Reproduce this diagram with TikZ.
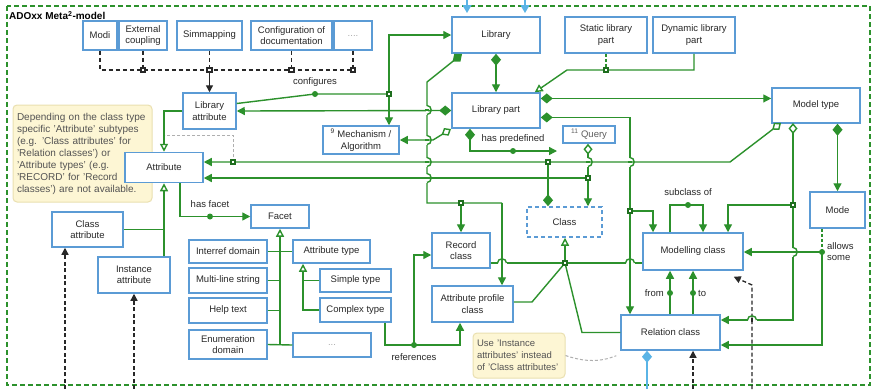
\documentclass[tikz,border=0pt]{standalone}
\usepackage{fontspec}
\setmainfont{Liberation Sans}
\usetikzlibrary{arrows.meta,calc}

\definecolor{gline}{RGB}{44,145,44}
\definecolor{gdark}{RGB}{30,110,30}
\definecolor{bborder}{RGB}{91,155,213}
\definecolor{skyblue}{RGB}{90,180,230}
\definecolor{notefill}{RGB}{253,246,212}
\definecolor{noteline}{RGB}{234,224,176}
\definecolor{dashgrey}{RGB}{175,175,175}
\definecolor{txtgrey}{RGB}{170,170,170}
\definecolor{dark}{RGB}{40,40,40}

\tikzset{
  gtri/.tip={Triangle[length=8pt,width=8pt]},
  gdia/.tip={Diamond[length=12pt,width=10pt]},
  odia/.tip={Diamond[open,length=11pt,width=9pt,fill=white]},
  otri/.tip={Triangle[open,length=8pt,width=8pt,fill=white]},
  btri/.tip={Triangle[length=7pt,width=7pt]},
  box/.style={draw=bborder, line width=1.5pt, fill=white, align=center, inner sep=1pt,
    font=\fontsize{9.5}{11.5}\selectfont, text=dark},
  bx/.style 2 args={box, minimum width=#1, minimum height=#2},
  note/.style={draw=noteline, fill=notefill, rounded corners=4pt, line width=1pt,
    align=left, inner sep=4pt, text=dark!80},
  lbl/.style={font=\fontsize{9.5}{11}\selectfont, inner sep=1pt, text=dark},
  link/.style={draw=gline, line width=1.4pt},
  gdash/.style={link, dash pattern=on 3pt off 2pt},
  bus/.style={draw=dark, line width=1.3pt, dash pattern=on 4pt off 3pt},
  bdash/.style={draw=dark, line width=1.3pt, dash pattern=on 4pt off 2.5pt},
  skyln/.style={draw=skyblue, fill=skyblue, line width=1.4pt},
  greyd/.style={draw=dashgrey, line width=1pt, dash pattern=on 3pt off 2pt},
  jsq/.pic={\fill[gdark] (-3,-3) rectangle (3,3); \fill[white] (-1.2,-1.2) rectangle (1.2,1.2);},
  bsq/.pic={\fill[dark] (-3.2,-3.2) rectangle (3.2,3.2); \fill[white] (-1.3,-1.3) rectangle (1.3,1.3);},
}

% a vertical line bending round a horizontal one
\newcommand{\jumpv}[2]{%
  \fill[white] ({#1-1.3},{#2-4.5}) rectangle ({#1+1.3},{#2+4.5});
  \draw[link] ({#1-2},#2) -- ({#1+2},#2);
  \draw[link] (#1,{#2-4.5}) .. controls ({#1+5.5},{#2-4.5}) and ({#1+5.5},{#2+4.5}) .. (#1,{#2+4.5});
}
% a horizontal line hopping over a vertical one
\newcommand{\jumph}[3]{%
  \fill[white] ({#1-4.5},{#2-1.3}) rectangle ({#1+4.5},{#2+1.3});
  \draw[#3] (#1,{#2-2}) -- (#1,{#2+2});
  \draw[link] ({#1-4.5},#2) .. controls ({#1-4.5},{#2-5.5}) and ({#1+4.5},{#2-5.5}) .. ({#1+4.5},#2);
}

\begin{document}
\begin{tikzpicture}[x=1pt,y=-1pt]
\fill[white] (0,0) rectangle (874,389);
\useasboundingbox (0,0) rectangle (874,389);

% frame and title
\draw[gline, line width=1.3pt, dash pattern=on 5pt off 3pt] (7,6) rectangle (870,385);
\node[anchor=west, inner sep=0, font=\bfseries\fontsize{10}{11}\selectfont] (title) at (9,15.5) {ADOxx Meta\textsuperscript{2}-model};

% notes (behind the classes)
\node[note, text width=131pt, minimum height=97pt, font=\fontsize{10}{12}\selectfont] (note1) at (82.5,153.5)
  {Depending on the class type\\specific 'Attribute' subtypes\\(e.g. 'Class attributes' for\\'Relation classes') or\\'Attribute types' (e.g.\\'RECORD' for 'Record\\classes') are not available.};
\node[note, text width=84pt, minimum height=45pt, font=\fontsize{9.5}{12}\selectfont] (note2) at (519,355.5)
  {Use 'Instance\\attributes' instead\\of 'Class attributes'};

% configuration items
\node[bx={34}{29}] (modi) at (100,35.5) {Modi};
\node[bx={48}{29}] (extc) at (143,35.5) {External\\coupling};
\node[bx={65}{29}] (simm) at (209.5,35.5) {Simmapping};
\node[bx={81}{29}] (confdoc) at (291.5,35.5) {Configuration of\\documentation};
\node[bx={38}{29}, text=txtgrey] (more1) at (353,35.5) {....};

% classes
\node[bx={53}{36}] (libattr) at (209.5,111) {Library\\attribute};
\node[bx={88}{36}] (library) at (496,35) {Library};
\node[bx={88}{35}] (libpart) at (496,110.5) {Library part};
\node[bx={82}{36}] (static) at (606,35) {Static library\\part};
\node[bx={82}{36}] (dynamic) at (694,35) {Dynamic library\\part};
\node[bx={88}{35}] (modeltype) at (816,105.5) {Model type};
\node[bx={76}{28}] (mech) at (361,140) {\textsuperscript{9} Mechanism /\\Algorithm};
\node[bx={52}{17}, text=dark!75] (query) at (589,134.5) {\textsuperscript{11} Query};
\node[bx={78}{30}] (attribute) at (164,167.5) {Attribute};
\node[bx={75}{30}, dash pattern=on 4pt off 3pt] (class) at (564.5,222) {Class};
\node[bx={55}{36}] (mode) at (837.5,210) {Mode};
\node[bx={100}{37}] (modclass) at (693,251.5) {Modelling class};
\node[bx={99}{35}] (relclass) at (670.5,332.5) {Relation class};
\node[bx={58}{35}] (record) at (461,250.5) {Record\\class};
\node[bx={81}{36}] (attrprof) at (472.5,304) {Attribute profile\\class};
\node[bx={58}{23}] (facet) at (280,216.5) {Facet};
\node[bx={71}{35}] (classattr) at (87.5,229.5) {Class\\attribute};
\node[bx={72}{36}] (instattr) at (134,275) {Instance\\attribute};
\node[bx={78}{23}] (interref) at (228,251.5) {Interref domain};
\node[bx={77}{23}] (attrtype) at (331.5,251.5) {Attribute type};
\node[bx={78}{25}] (multiline) at (228,280.5) {Multi-line string};
\node[bx={71}{23}] (simple) at (355.5,280.5) {Simple type};
\node[bx={78}{25}] (helptext) at (228,310.5) {Help text};
\node[bx={71}{24}] (complex) at (355.5,310) {Complex type};
\node[bx={78}{29}] (enum) at (228,344.5) {Enumeration\\domain};
\node[bx={78}{24}, text=txtgrey] (more2) at (332,345) {...};

% junction points
\coordinate (busy) at (0,70);
\coordinate (cfgsq) at (389,94);
\coordinate (cfgdot) at (315,94);
\coordinate (aggA) at (451,129);
\coordinate (aggB) at (433,140);
\coordinate (libA) at (462,54);
\coordinate (libB) at (427,82);
\coordinate (recsq) at (461,203);
\coordinate (recR) at (502,203);
\coordinate (slsq) at (606,70);
\coordinate (genbend) at (567,70);
\coordinate (vx630) at (630,0);
\coordinate (mcsq) at (630,211);
\coordinate (mcA) at (653,211);
\coordinate (mtA) at (781,123);
\coordinate (mtB) at (730,162);
\coordinate (atsq) at (233,162);
\coordinate (clsq1) at (548,162);
\coordinate (gdc) at (233,135);
\coordinate (gdd) at (165,135);
\coordinate (clsq2) at (588,178);
\coordinate (mtC) at (793,123);
\coordinate (mcsq2) at (793,205);
\coordinate (mcB) at (728,205);
\coordinate (rcA) at (793,320);
\coordinate (asdot) at (822,252);
\coordinate (asB) at (822,345);
\coordinate (hpx) at (470,151);
\coordinate (hpdot) at (513,151);
\coordinate (hpend) at (557,151);
\coordinate (hfx) at (180,216.5);
\coordinate (hfdot) at (210,216.5);
\coordinate (atx) at (303,0);
\coordinate (refA) at (385,345);
\coordinate (refdot) at (414,345);
\coordinate (refB) at (460,345);
\coordinate (refC) at (414,255);
\coordinate (gensq) at (565,263);
\coordinate (apA) at (532,302);
\coordinate (rcB) at (582,332.5);
\coordinate (scA) at (670,205);
\coordinate (scdot) at (688,205);
\coordinate (scB) at (703,205);
\coordinate (frx) at (670,293);
\coordinate (tox) at (693,293);
\coordinate (bt1) at (65,389);
\coordinate (bt3) at (693,389);
\coordinate (bt4) at (752,389);
\coordinate (bt4b) at (752,285);
\coordinate (bt5) at (647,389);
\coordinate (sky1) at (467,0);
\coordinate (sky2) at (525,0);

% configuration bus
\draw[bus] (modi.south) -- (modi.south |- busy) -- (more1.south |- busy);
\draw[bus] (extc.south) -- (extc.south |- busy);
\draw[bus] (simm.south) -- (simm.south |- busy);
\draw[bus] (confdoc.south) -- (confdoc.south |- busy);
\draw[bus] (more1.south) -- (more1.south |- busy);
\draw[draw=dark, line width=1.3pt, -{btri}] (simm.south |- busy) -- (libattr.north);
\foreach \n in {extc,simm,confdoc,more1} \pic at (\n.south |- busy) {bsq};

% library relations
\draw[link, {gtri}-{gtri}] (library.west) -- (cfgsq |- library.west) -- (cfgsq |- mech.north);
\draw[link] (cfgsq) -- (cfgdot) -- ($(libattr.north east)!0.3!(libattr.south east)$);
\node[lbl] (lblcfg) at (315,82) {configures};
\draw[link, {gdia}-{gtri}] (libpart.west) -- (libattr.east);
\draw[link, {odia}-{gtri}] (aggA) -- (aggB) -- (mech.east);
\draw[link, {gdia}-] (libA) -- (libB) -- (libB |- recsq) -- (recsq) -- (recR);
\draw[link, -{gtri}] (recR) -- (recR |- attrprof.north);
\draw[link, -{gtri}] (recsq) -- (record.north);
\draw[link, {gdia}-{gtri}] (library.south) -- (libpart.north);
\draw[gdash] (static.south) -- (slsq);
\draw[link, -{otri}] (dynamic.south) -- (dynamic.south |- slsq) -- (genbend) -- ($(libpart.north east)+(-6,0)$);
\draw[link, {gdia}-{gtri}] ($(libpart.north east)!0.17!(libpart.south east)$) coordinate (lpA) -- (lpA -| modeltype.west);
\draw[link, {gdia}-{gtri}] ($(libpart.north east)!0.69!(libpart.south east)$) coordinate (lpB) -- (lpB -| vx630) -- (vx630 |- relclass.north);
\draw[link, -{gtri}] (mcsq) -- (mcA) -- (mcA |- modclass.north);

% model type relations
\draw[link, {odia}-{gtri}] (mtA) -- (mtB) -- (atsq) -- (atsq -| attribute.east);
\draw[link, {gdia}-] (clsq1 |- class.north) -- (clsq1);
\draw[greyd] (atsq) -- (gdc) -- (gdd);
\draw[link, {odia}-] (clsq2 |- query.south) -- (clsq2);
\draw[link, -{gtri}] (clsq2) -- (clsq2 |- class.north);
\draw[link, -{gtri}] (clsq2) -- (clsq2 -| attribute.east);
\draw[link, {odia}-] (mtC) -- (mcsq2);
\draw[link, -{gtri}] (mcsq2) -- (mcB) -- (mcB |- modclass.north);
\draw[link, -{gtri}] (mcsq2) -- (rcA) -- (rcA -| relclass.east);
\draw[link, {gdia}-{gtri}] (mode.north |- modeltype.south) -- (mode.north);

% allows some
\draw[gdash] (asdot |- mode.south) -- (asdot);
\draw[link, -{gtri}] (asdot) -- (asdot -| modclass.east);
\draw[link, -{gtri}] (asdot) -- (asB) -- (asB -| relclass.east);
\node[lbl, anchor=west, align=left] (lblallow) at (826,252) {allows\\some};

% has predefined
\draw[link, {gdia}-{gtri}] (hpx |- libpart.south) -- (hpx) -- (hpdot) -- (hpend);
\node[lbl] (lblpre) at (513,139) {has predefined};

% attribute relations
\draw[link, -{gtri}] (hfx |- attribute.south) -- (hfx) -- (hfdot) -- (facet.west);
\node[lbl] (lblfacet) at (210,204) {has facet};
\draw[link, -{otri}] (libattr.west) -- (attribute.north |- libattr.west) -- (attribute.north);
\draw[link, -{otri}] (attribute.south |- instattr.north) -- (attribute.south);
\draw[link] (classattr.east) -- (attribute.south |- classattr.east);

% facets and attribute types
\draw[link, -{otri}] (facet.south |- enum.east) -- (facet.south);
\draw[link] (interref.east) -- (attrtype.west);
\draw[link] (multiline.east) -- (multiline.east -| facet.south);
\draw[link] (helptext.east) -- (helptext.east -| facet.south);
\draw[link] (enum.east) -- (more2.west);
\draw[link, -{otri}] (complex.west) -- (complex.west -| atx) -- (atx |- attrtype.south);
\draw[link] (simple.west) -- (simple.west -| atx);

% references
\draw[link] (refA |- complex.south) -- (refA) -- (refdot);
\draw[link, -{gtri}] (refdot) -- (refB) -- (refB |- attrprof.south);
\draw[link, -{gtri}] (refdot) -- (refC) -- (refC -| record.west);
\node[lbl] (lblref) at (414,357) {references};

% class specialisations
\draw[link, -{otri}] (gensq) -- (gensq |- class.south);
\draw[link] (record.east |- gensq) -- (gensq) -- (gensq -| modclass.west);
\draw[link] (attrprof.east |- apA) -- (apA) -- (gensq);
\draw[link] (gensq) -- (rcB) -- (relclass.west);

% subclass of, from, to
\draw[link, -{gtri}] (scA |- modclass.north) -- (scA) -- (scdot) -- (scB) -- (scB |- modclass.north);
\node[lbl] (lblsub) at (688,192) {subclass of};
\draw[link, -{gtri}] (frx |- relclass.north) -- (frx |- modclass.south);
\draw[link, -{gtri}] (tox |- relclass.north) -- (tox |- modclass.south);
\node[lbl, anchor=east] (lblfrom) at (665,293) {from};
\node[lbl, anchor=west] (lblto) at (697,293) {to};

% outside references
\draw[bdash, -{btri}] (bt1) -- (bt1 |- classattr.south);
\draw[bdash, -{btri}] (instattr.south |- bt1) -- (instattr.south);
\draw[bdash, -{btri}] (bt3) -- (bt3 |- relclass.south);
\draw[bdash, -{btri}] (bt4) -- (bt4b) -- ($(modclass.south east)+(-10,6)$);
\draw[skyln, -{Diamond[length=12pt,width=10pt]}] (bt5) -- (bt5 |- relclass.south);
\draw[skyln, -{Triangle[length=8pt,width=9pt]}] (sky1) -- ++(0,13);
\draw[skyln, -{Triangle[length=8pt,width=9pt]}] (sky2) -- ++(0,13);
\draw[greyd] (note2.east) .. controls (590,364) and (605,360) .. ($(relclass.south west)+(-4,5)$);

% crossings
\jumpv{427}{110}
\jumpv{427}{140}
\jumpv{427}{162}
\jumpv{427}{178}
\jumpv{630}{162}
\jumpv{588}{162}
\jumpv{793}{252}
\jumph{502}{263}{link}
\jumph{630}{263}{link}
\jumph{752}{320}{draw=dark, line width=1.3pt}

% junction markers
\foreach \c in {cfgsq,clsq1,clsq2,atsq,mcsq,mcsq2,recsq,slsq,gensq} \pic at (\c) {jsq};
\foreach \c in {cfgdot,hpdot,hfdot,refdot,scdot,frx,tox,asdot} \fill[gline] (\c) circle[radius=3];
\end{tikzpicture}
\end{document}
